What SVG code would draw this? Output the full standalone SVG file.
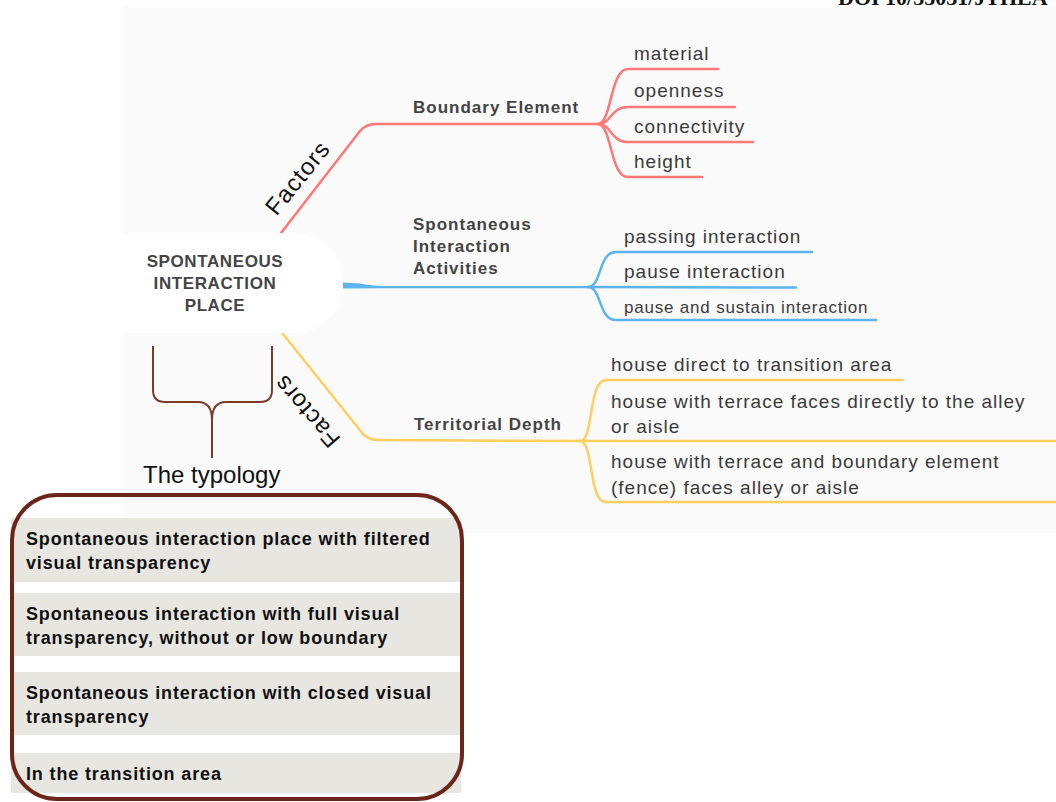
<svg xmlns="http://www.w3.org/2000/svg" width="1056" height="802" viewBox="0 0 1056 802">
<style>
.lbl{font-family:"Liberation Sans",Arial,sans-serif;font-weight:bold;font-size:17px;fill:#444;letter-spacing:1px}
.leaf{font-family:"Liberation Sans",Arial,sans-serif;font-size:19px;fill:#3a3a3a;letter-spacing:1px}
.typ{font-family:"Liberation Sans",Arial,sans-serif;font-weight:bold;font-size:18px;fill:#111;letter-spacing:0.85px}
.fac{font-family:"Liberation Sans",Arial,sans-serif;font-size:24px;fill:#111;letter-spacing:1px}
.red{stroke:#ff7878;fill:none;stroke-width:2.5;stroke-linecap:round}
.blue{stroke:#5cb3ee;fill:none;stroke-width:2.5;stroke-linecap:round}
.yel{stroke:#fdcf5f;fill:none;stroke-width:2.5;stroke-linecap:round}
.row{fill:#e7e6e1}
</style>
<rect x="0" y="0" width="1056" height="802" fill="#ffffff"/>
<rect x="123" y="7" width="933" height="526" fill="#fafafa"/>
<text x="838" y="5" font-family="'Liberation Serif',serif" font-weight="bold" font-size="22" fill="#111">DOI 10/35031/JTHEA</text>

<g id="connectors">
  <path class="red" d="M281,233 L360,131" stroke-width="5"/>
  <path class="red" d="M360,131 Q366,124 376,124 L598,124"/>
  <path class="red" d="M598,124 C612,123 610,69 628,69 L718,69"/>
  <path class="red" d="M598,124 C612,124 610,107 628,107 L735,107"/>
  <path class="red" d="M598,124 C612,124 610,142 628,142 L753,142"/>
  <path class="red" d="M598,124 C612,125 610,177 628,177 L702,177"/>
  <path d="M343,282.5 L343,288.5 L385,288.3 L590,288.3 L590,286 L385,286 Q370,285.5 360,283.5 Z" fill="#5cb3ee"/>
  <path class="blue" d="M588,287 C602,287 598,252 616,252 L812,252"/>
  <path class="blue" d="M588,287 L796,287.5"/>
  <path class="blue" d="M588,287 C602,287 598,320 616,320 L876,320"/>
  <path class="yel" d="M283,334 L363,434" stroke-width="4.5"/>
  <path class="yel" d="M363,434 Q369,440 378,440 L580,441"/>
  <path class="yel" d="M580,441 C594,441 588,380 606,380 L903,380"/>
  <path class="yel" d="M580,441 L1056,441"/>
  <path class="yel" d="M580,441 C594,441 588,502 606,502 L1056,502"/>
  <path d="M153,346 L153,390 Q153,402 165,402 L198,402 Q212,402 212,420 L212,458 M272,346 L272,390 Q272,402 260,402 L226,402 Q212,402 212,420" fill="none" stroke="#7a3b2b" stroke-width="2"/>
</g>

<g id="center">
  <rect x="80" y="233" width="263" height="100" rx="48" fill="#ffffff"/>
  <text x="215" y="267" text-anchor="middle" class="lbl" style="letter-spacing:0.6px">SPONTANEOUS</text>
  <text x="215" y="289" text-anchor="middle" class="lbl" style="letter-spacing:0.6px">INTERACTION</text>
  <text x="215" y="311" text-anchor="middle" class="lbl" style="letter-spacing:0.6px">PLACE</text>
</g>

<g id="factors-top"><text class="fac" text-anchor="middle" transform="translate(304,183) rotate(-51)">Factors</text></g>
<g id="factors-bottom"><text class="fac" text-anchor="middle" transform="translate(313,406) rotate(229)">Factors</text></g>

<g id="boundary-element"><text x="413" y="113" class="lbl">Boundary Element</text></g>
<g id="material"><text x="634" y="60" class="leaf">material</text></g>
<g id="openness"><text x="634" y="97" class="leaf">openness</text></g>
<g id="connectivity"><text x="634" y="133" class="leaf">connectivity</text></g>
<g id="height"><text x="634" y="168" class="leaf">height</text></g>

<g id="activities">
  <text x="413" y="230" class="lbl">Spontaneous</text>
  <text x="413" y="252" class="lbl">Interaction</text>
  <text x="413" y="274" class="lbl">Activities</text>
</g>
<g id="passing"><text x="624" y="243" class="leaf">passing interaction</text></g>
<g id="pause"><text x="624" y="278" class="leaf">pause interaction</text></g>
<g id="sustain"><text x="624" y="313" class="leaf" style="font-size:17px;letter-spacing:0.8px">pause and sustain interaction</text></g>

<g id="territorial"><text x="414" y="430" class="lbl">Territorial Depth</text></g>
<g id="direct"><text x="611" y="371" class="leaf">house direct to transition area</text></g>
<g id="terrace"><text x="611" y="408" class="leaf">house with terrace faces directly to the alley</text><text x="611" y="433" class="leaf">or aisle</text></g>
<g id="fence"><text x="611" y="468" class="leaf">house with terrace and boundary element</text><text x="611" y="494" class="leaf">(fence) faces alley or aisle</text></g>

<g id="typology-label"><text x="143" y="483" font-family="'Liberation Sans',Arial,sans-serif" font-size="24" fill="#111">The typology</text></g>

<g id="typology-box">
  <rect class="row" x="11" y="518" width="450" height="64"/>
  <rect class="row" x="11" y="593" width="450" height="63"/>
  <rect class="row" x="11" y="672" width="450" height="63"/>
  <rect class="row" x="11" y="753" width="450" height="40"/>
  <text x="26" y="545" class="typ">Spontaneous interaction place with filtered</text>
  <text x="26" y="569" class="typ">visual transparency</text>
  <text x="26" y="620" class="typ">Spontaneous interaction with full visual</text>
  <text x="26" y="644" class="typ">transparency, without or low boundary</text>
  <text x="26" y="699" class="typ">Spontaneous interaction with closed visual</text>
  <text x="26" y="723" class="typ">transparency</text>
  <text x="26" y="780" class="typ">In the transition area</text>
  <rect x="12" y="495" width="450" height="304" rx="45" fill="none" stroke="#6b2519" stroke-width="4"/>
</g>
</svg>
